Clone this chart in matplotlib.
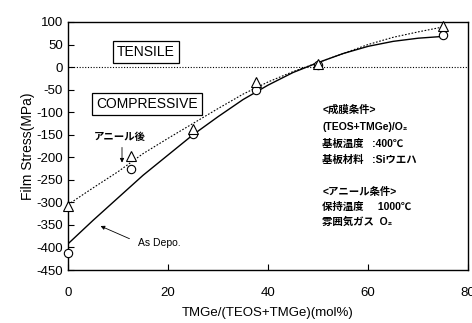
import numpy as np
import matplotlib
matplotlib.use("Agg")
import matplotlib.pyplot as plt

plt.rcParams["font.family"] = ["Liberation Sans", "Noto Sans CJK JP", "DejaVu Sans"]
plt.rcParams["axes.unicode_minus"] = False

# ── data ────────────────────────────────────────────────────────
pts_x = [0, 12.5, 25, 37.5, 50, 75]
depo_pts = [-413, -225, -148, -50, 4, 70]       # circles (As Depo.)
anneal_pts = [-308, -197, -137, -33, 7, 91]     # triangles (アニール後)

curve_x = [0, 5, 10, 15, 20, 25, 30, 35, 40, 45, 50, 55, 60, 65, 70, 75]
depo_curve = [-392, -340, -290, -240, -195, -150, -110, -72, -40, -12,
              10, 30, 46, 57, 64, 68]
anneal_curve = [-305, -268, -232, -192, -158, -125, -92, -60, -33, -10,
                10, 30, 50, 66, 78, 89]

x_ticks = [0, 20, 40, 60, 80]
y_ticks = list(range(100, -451, -50))

fig = plt.figure(figsize=(4.72, 3.23), dpi=100)
ax = fig.add_axes([0.144, 0.164, 0.848, 0.768])

ax.plot(curve_x, depo_curve, color="black", lw=1.0)
ax.plot(curve_x, anneal_curve, color="black", lw=0.8, ls=(0, (1.5, 1.5)))
ax.plot(pts_x, depo_pts, "o", ms=6, mfc="white", mec="black", mew=0.8,
        clip_on=False, zorder=5)
ax.plot(pts_x, anneal_pts, "^", ms=6.5, mfc="white", mec="black", mew=0.8,
        clip_on=False, zorder=5)
ax.axhline(0, color="black", lw=0.8, ls=(0, (1, 1.5)))

ax.set_xlim(0, 80)
ax.set_ylim(-450, 100)
ax.set_xticks(x_ticks)
ax.set_yticks(y_ticks)
ax.tick_params(direction="in", length=4, width=0.8, labelsize=9.5)
ax.tick_params(axis="x", pad=12)
for s in ax.spines.values():
    s.set_linewidth(1.0)

ax.set_xlabel("TMGe/(TEOS+TMGe)(mol%)", fontsize=9.5, labelpad=6)
ax.set_ylabel("Film Stress(MPa)", fontsize=10, labelpad=1)

box = dict(boxstyle="square,pad=0.3", fc="white", ec="black", lw=0.9)
ax.text(15.6, 33, "TENSILE", fontsize=10, ha="center", va="center", bbox=box)
ax.text(15.8, -82, "COMPRESSIVE", fontsize=10, ha="center", va="center", bbox=box)

jp = dict(fontsize=7.5, fontweight="bold")
ax.text(10.4, -155, "アニール後", ha="center", va="center", **jp)
ax.annotate("", xy=(10.8, -218), xytext=(10.8, -172),
            arrowprops=dict(arrowstyle="-|>", color="black", lw=0.6,
                            mutation_scale=6))
ax.text(14, -390, "As Depo.", fontsize=7.5, ha="left", va="center")
ax.annotate("", xy=(6, -350), xytext=(12.8, -383),
            arrowprops=dict(arrowstyle="-|>", color="black", lw=0.6,
                            mutation_scale=6))

info = [
    (-95, "<成膜条件>"),
    (-133, "(TEOS+TMGe)/O₂"),
    (-170, "基板温度   :400℃"),
    (-205, "基板材料   :Siウエハ"),
    (-277, "<アニール条件>"),
    (-310, "保持温度     1000℃"),
    (-343, "雰囲気ガス  O₂"),
]
for y, s in info:
    ax.text(50.8, y, s, ha="left", va="center", **jp)

fig.savefig("out.png", dpi=100, facecolor="white")
